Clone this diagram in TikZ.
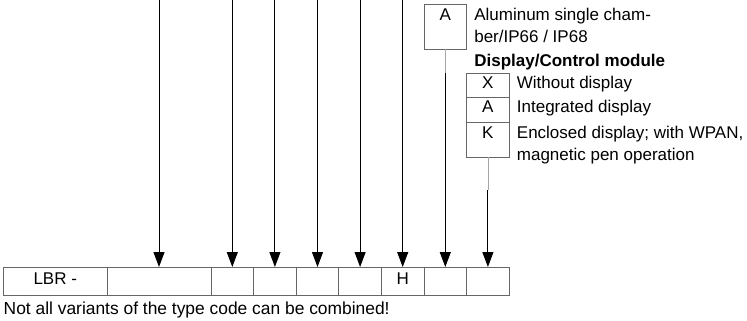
\documentclass[tikz,border=0pt]{standalone}
\usepackage{fontspec}
\setmainfont{Liberation Sans}
\usetikzlibrary{arrows.meta, positioning}

\begin{document}
\begin{tikzpicture}[x=1bp, y=-1bp,
    cell/.style={draw=black!60, line width=0.8bp, inner sep=0pt, outer sep=0pt,
      minimum width=42.6bp, minimum height=28bp, text height=13bp, text depth=7bp,
      font=\fontsize{17bp}{21bp}\selectfont},
    lbl/.style={inner sep=0pt, align=left, font=\fontsize{17bp}{22bp}\selectfont},
    feed/.style={draw=black!35, line width=0.8bp},
    pick/.style={line width=1bp, -{Triangle[length=15bp, width=11bp]}}]
    \useasboundingbox (0,0) rectangle (747,320);

    % Type code row
    \node[cell, minimum width=103.5bp] (c1) at (55.25,281) {LBR -};
    \node[cell, minimum width=104bp, right=0pt of c1] (c2) {};
    \node[cell, right=0pt of c2] (c3) {};
    \node[cell, right=0pt of c3] (c4) {};
    \node[cell, right=0pt of c4] (c5) {};
    \node[cell, right=0pt of c5] (c6) {};
    \node[cell, right=0pt of c6] (c7) {H};
    \node[cell, right=0pt of c7] (c8) {};
    \node[cell, right=0pt of c8] (c9) {};
    \node[anchor=base west, inner sep=0pt, font=\fontsize{17.4bp}{20bp}\selectfont] (note)
        at ([yshift=-19bp]c1.south west) {Not all variants of the type code can be combined!};

    % Housing
    \node[cell, minimum height=45bp, text depth=26bp] (hA) at (c8 |- 0,26.5) {A};
    \node[lbl, anchor=north west] (hAtxt) at ([xshift=7.5bp, yshift=-3.6bp]hA.north east)
        {Aluminum single cham-\\ber/IP66 / IP68};

    % Display/Control module
    \node[lbl, anchor=base west, font=\fontsize{17bp}{22bp}\selectfont\bfseries] (dtitle)
        at (hAtxt.west |- 0,66) {Display/Control module};
    \node[cell, minimum height=24.5bp, anchor=north] (dX) at (c9 |- 0,73) {X};
    \node[cell, minimum height=24.5bp, below=0pt of dX] (dA) {A};
    \node[cell, minimum height=35bp, text depth=16bp, below=0pt of dA] (dK) {K};
    \node[lbl, anchor=base west] (dXtxt) at ([xshift=7.5bp]dX.base east) {Without display};
    \node[lbl, anchor=base west] (dAtxt) at ([xshift=7.5bp]dA.base east) {Integrated display};
    \node[lbl, anchor=north west] (dKtxt) at ([xshift=7.5bp, yshift=-3.6bp]dK.north east)
        {Enclosed display; with WPAN,\\magnetic pen operation};

    % Selections
    \coordinate (t2) at (c2 |- 0,0);
    \coordinate (t3) at (c3 |- 0,0);
    \coordinate (t4) at (c4 |- 0,0);
    \coordinate (t5) at (c5 |- 0,0);
    \coordinate (t6) at (c6 |- 0,0);
    \coordinate (t7) at (c7 |- 0,0);
    \coordinate (jA) at (hA |- dX.north);
    \coordinate[below=33bp of dK] (jK);

    \draw[pick] (t2) -- (c2);
    \draw[pick] (t3) -- (c3);
    \draw[pick] (t4) -- (c4);
    \draw[pick] (t5) -- (c5);
    \draw[pick] (t6) -- (c6);
    \draw[pick] (t7) -- (c7);
    \draw[feed] (hA) -- (jA);
    \draw[pick] (jA) -- (c8);
    \draw[feed] (dK) -- (jK);
    \draw[pick] (jK) -- (c9);
\end{tikzpicture}
\end{document}
